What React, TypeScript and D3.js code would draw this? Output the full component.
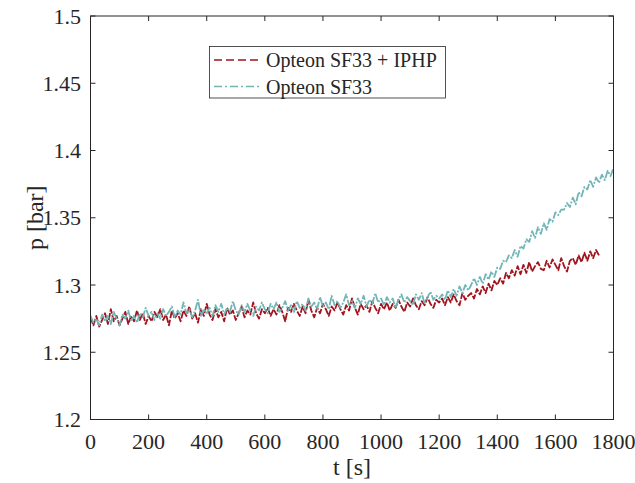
import React from "react";
import * as d3 from "d3";

const xTicks = [0, 200, 400, 600, 800, 1000, 1200, 1400, 1600, 1800];
const yTicks = [1.2, 1.25, 1.3, 1.35, 1.4, 1.45, 1.5];
const seriesNames = ["Opteon SF33 + IPHP", "Opteon SF33"];
const stepSeconds = 10;

// Opteon SF33 + IPHP, every 10 s from 0 to 1750 s
const redValues = [
  1.276, 1.270, 1.277, 1.269, 1.274, 1.279, 1.271, 1.282, 1.273, 1.277, 1.270, 1.275, 1.280, 1.271, 1.277, 1.273, 1.281, 1.274, 1.279, 1.271, 1.277,
  1.273, 1.280, 1.276, 1.282, 1.274, 1.278, 1.270, 1.281, 1.275, 1.279,
  1.273, 1.281, 1.277, 1.284, 1.275, 1.279, 1.272, 1.282, 1.277, 1.286,
  1.278, 1.274, 1.282, 1.276, 1.280, 1.273, 1.283, 1.278, 1.281, 1.274,
  1.279, 1.284, 1.276, 1.281, 1.278, 1.287, 1.279, 1.275, 1.282, 1.279,
  1.283, 1.277, 1.282, 1.278, 1.285, 1.280, 1.273, 1.283, 1.280, 1.286,
  1.281, 1.277, 1.284, 1.279, 1.289, 1.281, 1.276, 1.283, 1.279, 1.286,
  1.282, 1.277, 1.284, 1.281, 1.287, 1.282, 1.278, 1.285, 1.281, 1.290,
  1.283, 1.278, 1.286, 1.282, 1.285, 1.280, 1.288, 1.283, 1.279, 1.286,
  1.282, 1.287, 1.281, 1.286, 1.283, 1.289, 1.284, 1.280, 1.287, 1.284,
  1.290, 1.285, 1.282, 1.288, 1.285, 1.291, 1.286, 1.283, 1.289, 1.287,
  1.290, 1.285, 1.291, 1.287, 1.293, 1.288, 1.285, 1.294, 1.289, 1.292,
  1.294, 1.290, 1.297, 1.293, 1.299, 1.294, 1.301, 1.296, 1.303, 1.300,
  1.305, 1.301, 1.309, 1.305, 1.311,
  1.307, 1.314, 1.308, 1.315, 1.309, 1.317, 1.310, 1.314, 1.317, 1.312,
  1.311, 1.318, 1.313, 1.319, 1.315, 1.311, 1.320, 1.314, 1.310, 1.318,
  1.320, 1.315, 1.322, 1.317, 1.324, 1.318, 1.325, 1.320, 1.326, 1.322,
];

// Opteon SF33, every 10 s from 0 to 1800 s
const tealValues = [
  1.277, 1.272, 1.275, 1.270, 1.278, 1.273, 1.277, 1.271, 1.280, 1.275, 1.270, 1.278, 1.275, 1.281, 1.273, 1.277, 1.272, 1.279, 1.276, 1.283, 1.277,
  1.280, 1.274, 1.279, 1.275, 1.282, 1.277, 1.280, 1.284, 1.276, 1.281,
  1.278, 1.287, 1.279, 1.282, 1.276, 1.281, 1.289, 1.277, 1.282, 1.279,
  1.283, 1.277, 1.285, 1.280, 1.286, 1.278, 1.283, 1.280, 1.288, 1.281,
  1.278, 1.285, 1.280, 1.286, 1.281, 1.277, 1.284, 1.281, 1.287, 1.282,
  1.279, 1.286, 1.282, 1.287, 1.280, 1.283, 1.288, 1.281, 1.285, 1.280,
  1.288, 1.283, 1.286, 1.281, 1.290, 1.284, 1.287, 1.282, 1.291, 1.284,
  1.287, 1.282, 1.292, 1.285, 1.288, 1.283, 1.287, 1.293, 1.285, 1.288,
  1.283, 1.290, 1.286, 1.292, 1.284, 1.289, 1.286, 1.294, 1.287, 1.290,
  1.285, 1.291, 1.287, 1.290, 1.283, 1.289, 1.293, 1.287, 1.291, 1.288,
  1.285, 1.293, 1.289, 1.294, 1.286, 1.291, 1.295, 1.289, 1.292, 1.290,
  1.293, 1.289, 1.296, 1.291, 1.297, 1.292, 1.299, 1.294, 1.300, 1.296,
  1.300, 1.305, 1.300, 1.306, 1.301, 1.308, 1.304, 1.310, 1.306, 1.313,
  1.312, 1.318, 1.317, 1.322, 1.320, 1.326, 1.321, 1.329, 1.327, 1.334,
  1.332, 1.340, 1.335, 1.343, 1.338, 1.346, 1.341, 1.349, 1.347, 1.354,
  1.352, 1.356, 1.356, 1.361, 1.358, 1.365, 1.360, 1.369, 1.366, 1.373,
  1.371, 1.378, 1.373, 1.380, 1.376, 1.382, 1.378, 1.385, 1.381, 1.387,
];

const RED = "#a0141e";
const TEAL = "#72b5b6";
const AX = "#262626";
const FONT = "'Liberation Serif', 'Times New Roman', serif";

export default function App() {
  const W = 635, H = 483;
  const left = 90.5, right = 613.5, top = 16, bottom = 419.5;
  const x = d3.scaleLinear().domain([0, 1800]).range([left, right]);
  const y = d3.scaleLinear().domain([1.2, 1.5]).range([bottom, top]);
  const line = d3
    .line<number>()
    .x((_, i) => x(i * stepSeconds))
    .y((d) => y(d));
  const fmt = (v: number) => String(+v.toFixed(2));
  const tl = 5;

  return (
    <svg
      width={W}
      height={H}
      style={{ position: "absolute", left: 0, top: 0, background: "#fff" }}
      fontFamily={FONT}
    >
      <rect x={0} y={0} width={W} height={H} fill="#fff" />
      <defs>
        <clipPath id="plotclip">
          <rect x={left} y={top} width={right - left} height={bottom - top} />
        </clipPath>
      </defs>
      <g clipPath="url(#plotclip)">
        <path d={line(redValues) || ""} fill="none" stroke={RED} strokeWidth={1.8} strokeDasharray="7,1.5" strokeLinejoin="round" />
        <path d={line(tealValues) || ""} fill="none" stroke={TEAL} strokeWidth={1.8} strokeDasharray="8,1.5,2,1.5" strokeLinejoin="round" />
      </g>
      {/* axes box */}
      <rect x={left} y={top} width={right - left} height={bottom - top} fill="none" stroke={AX} strokeWidth={1} />
      {xTicks.map((t) => (
        <g key={"x" + t}>
          <line x1={x(t)} x2={x(t)} y1={bottom} y2={bottom - tl} stroke={AX} />
          <line x1={x(t)} x2={x(t)} y1={top} y2={top + tl} stroke={AX} />
          <text x={x(t)} y={449} fontSize={22} fill={AX} textAnchor="middle">
            {t}
          </text>
        </g>
      ))}
      {yTicks.map((v) => (
        <g key={"y" + v}>
          <line x1={left} x2={left + tl} y1={y(v)} y2={y(v)} stroke={AX} />
          <line x1={right} x2={right - tl} y1={y(v)} y2={y(v)} stroke={AX} />
          <text x={81} y={y(v) + 7.5} fontSize={22} fill={AX} textAnchor="end">
            {fmt(v)}
          </text>
        </g>
      ))}
      <text x={(left + right) / 2} y={475} fontSize={24} fill={AX} textAnchor="middle">
        t [s]
      </text>
      <text
        transform={`translate(43, ${(top + bottom) / 2}) rotate(-90)`}
        fontSize={24}
        fill={AX}
        textAnchor="middle"
      >
        p [bar]
      </text>
      {/* legend */}
      <rect x={209.5} y={46.5} width={236} height={51.5} fill="#fff" stroke={AX} strokeWidth={0.8} />
      <line x1={214} x2={262} y1={60} y2={60} stroke={RED} strokeWidth={1.5} strokeDasharray="8,4" />
      <text x={266} y={67} fontSize={20} fill={AX}>
        {seriesNames[0]}
      </text>
      <line x1={214} x2={262} y1={86.5} y2={86.5} stroke={TEAL} strokeWidth={1.5} strokeDasharray="8,3,2,3" />
      <text x={266} y={93.5} fontSize={20} fill={AX}>
        {seriesNames[1]}
      </text>
    </svg>
  );
}
